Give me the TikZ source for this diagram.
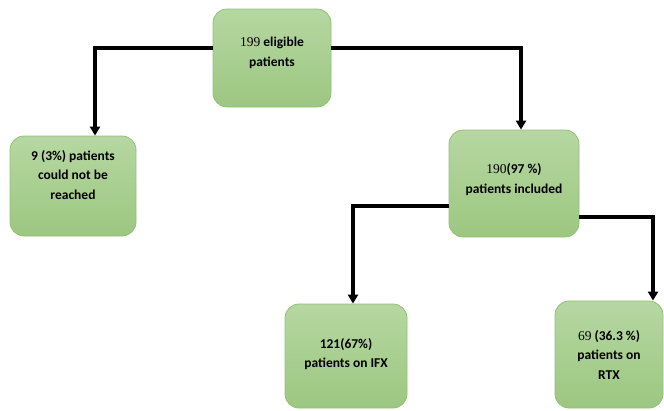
\documentclass[tikz,border=0pt]{standalone}
\usepackage{fontspec}
\setmainfont{Carlito}
\newfontfamily\numfont{Liberation Serif}
\usetikzlibrary{arrows.meta}
\definecolor{gtop}{HTML}{B6D7A2}
\definecolor{gbot}{HTML}{9CC780}
\definecolor{gedge}{HTML}{93C077}
\tikzset{
  gbox/.style={draw=gedge, line width=0.8pt, rounded corners=14pt, top color=gtop, bottom color=gbot, inner sep=0pt},
  gtext/.style={align=center, font=\bfseries\fontsize{13.5}{19.5}\selectfont, inner sep=0pt},
  conn/.style={line width=3.4pt, -{Triangle[length=9pt,width=10pt]}}
}
\begin{document}
\begin{tikzpicture}[x=1pt,y=-1pt]
\useasboundingbox (0,0) rectangle (664,410);
\node[gbox, minimum width=118pt, minimum height=98pt] (top) at (272,58) {};
\node[gtext] (toptxt) at ([yshift=5pt]top.center) {{\mdseries\numfont 199} eligible\\patients};
\node[gbox, minimum width=126pt, minimum height=100pt] (left) at (73,186) {};
\node[gtext] (lefttxt) at ([yshift=11pt]left.center) {9 (3\%) patients\\could not be\\reached};
\node[gbox, minimum width=130pt, minimum height=107pt] (mid) at (514,183.5) {};
\node[gtext] (midtxt) at ([yshift=4pt]mid.center) {{\mdseries\numfont 190}(97 \%)\\patients included};
\node[gbox, minimum width=122pt, minimum height=104pt] (ifx) at (346,356) {};
\node[gtext] (ifxtxt) at ([yshift=2pt]ifx.center) {121(67\%)\\patients on IFX};
\node[gbox, minimum width=108pt, minimum height=107pt] (rtx) at (609,354.5) {};
\node[gtext] (rtxtxt) at (rtx.center) {{\mdseries\numfont 69} (36.3 \%)\\patients on\\RTX};
\coordinate (c1) at (95,48);
\coordinate (c2) at (521,48);
\coordinate (c3) at (353,206);
\coordinate (c4) at (653,217);
\draw[conn] (top.west |- c1) -- (c1) -- (c1 |- left.north);
\draw[conn] (top.east |- c2) -- (c2) -- (c2 |- mid.north);
\draw[conn] (mid.west |- c3) -- (c3) -- (c3 |- ifx.north);
\draw[conn] (mid.east |- c4) -- (c4) -- (c4 |- rtx.north);
\end{tikzpicture}
\end{document}
